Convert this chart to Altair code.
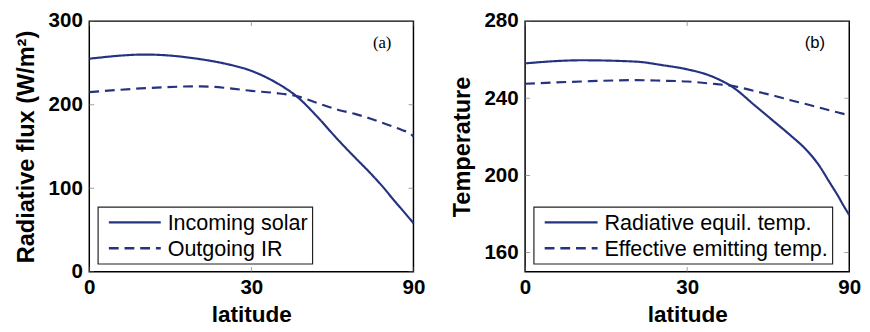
import math
import altair as alt
import pandas as pd

# ---- data ----
lat = [0, 10, 20, 25, 30, 35, 40, 45, 50, 55, 60, 65, 70, 75, 80, 85, 90]
incoming_solar = [255, 260, 254.5, 248.8, 240.5, 227, 209, 184, 158.5, 137,
                  118.5, 101.4, 85.7, 73.9, 65.2, 60, 58]
outgoing_ir = [215, 219.8, 222, 220, 216.5, 214, 210, 201.5, 194, 189,
               183.5, 178, 173.4, 169.5, 166.5, 163.5, 162]
t_rad_equil = [258.1, 259.7, 259, 257.2, 255, 251.5, 245.5, 236.5, 228.2, 220.7,
               213.5, 205.3, 196.3, 189.2, 183.6, 180.5, 179.5]
t_eff_emit = [247.5, 248.7, 249.4, 249.1, 248.7, 247.6, 246.3, 243.8, 241.4, 239,
              237, 235.2, 233.7, 232.6, 231.8, 231.4, 231.2]

x_ticks_deg = [0, 30, 90]
y_ticks_a = [0, 100, 200, 300]
y_ticks_b = [160, 200, 240, 280]
y_domain_a = [0, 300]
y_domain_b = [150, 280]

names_a = ["Incoming solar", "Outgoing IR"]
names_b = ["Radiative equil. temp.", "Effective emitting temp."]

NAVY = "#25327f"
SANS = "Liberation Sans"
W, H = 331, 256
DASHES = [[1, 0], [10, 6]]

x_tick_vals = [math.sin(math.radians(d)) for d in x_ticks_deg]


def long_df(names, s1, s2):
    rows = []
    for n, s in zip(names, [s1, s2]):
        for la, v in zip(lat, s):
            rows.append({"lat": la, "value": v, "series": n})
    return pd.DataFrame(rows)


def panel(names, s1, s2, ydom, yticks, ytitle, tag, tag_font, tag_x, box_right, sym_right):
    df = long_df(names, s1, s2)
    xscale = alt.Scale(domain=[0, 1], nice=False)
    yscale = alt.Scale(domain=ydom, nice=False, zero=False)
    xaxis = alt.Axis(values=x_tick_vals, title="latitude",
                     labelExpr="format(round(asin(datum.value)*180/PI), 'd')",
                     labelFlush=False, labelOverlap=False,
                     labelPadding=5, titlePadding=7)
    yaxis = alt.Axis(values=yticks, title=ytitle, labelPadding=7, titlePadding=10,
                     labelOverlap=False)

    lines = alt.Chart(df).transform_calculate(
        sx="sin(datum.lat*PI/180)"
    ).mark_line(color=NAVY, strokeWidth=2.2, interpolate="monotone").encode(
        x=alt.X("sx:Q", scale=xscale, axis=xaxis),
        y=alt.Y("value:Q", scale=yscale, axis=yaxis),
        strokeDash=alt.StrokeDash(
            "series:N", scale=alt.Scale(domain=names, range=DASHES), legend=None),
        order="lat:Q",
    )

    xt = pd.DataFrame({"sx": x_tick_vals})
    yt = pd.DataFrame({"value": yticks})
    tk = dict(color="#777777", thickness=1, size=10, clip=True)
    xtb = alt.Chart(xt).mark_tick(**tk).encode(
        x=alt.X("sx:Q", scale=xscale, axis=xaxis), y=alt.value(H))
    xtt = alt.Chart(xt).mark_tick(**tk).encode(
        x=alt.X("sx:Q", scale=xscale, axis=xaxis), y=alt.value(0))
    ytl = alt.Chart(yt).mark_tick(**tk).encode(
        y=alt.Y("value:Q", scale=yscale, axis=yaxis), x=alt.value(0))
    ytr = alt.Chart(yt).mark_tick(**tk).encode(
        y=alt.Y("value:Q", scale=yscale, axis=yaxis), x=alt.value(W))

    label = alt.Chart(pd.DataFrame({"t": [tag]})).mark_text(
        font=tag_font, fontSize=17, color="black"
    ).encode(text="t:N", x=alt.value(tag_x), y=alt.value(22))

    # legend box (drawn manually)
    box = alt.Chart(pd.DataFrame({"t": [0]})).mark_rect(
        fill="white", stroke="#222222", strokeWidth=1.2
    ).encode(x=alt.value(9), x2=alt.value(box_right), y=alt.value(190), y2=alt.value(248))
    leg_layers = [box]
    row_y = [205.5, 232]
    for i, n in enumerate(names):
        d = pd.DataFrame({"series": [n]})
        leg_layers.append(alt.Chart(d).mark_rule(
            color=NAVY, strokeWidth=2.5, strokeDash=DASHES[i]
        ).encode(x=alt.value(20), x2=alt.value(sym_right), y=alt.value(row_y[i])))
        leg_layers.append(alt.Chart(d).mark_text(
            font=SANS, fontSize=22, color="black", align="left", baseline="middle"
        ).encode(text="series:N", x=alt.value(sym_right + 7), y=alt.value(row_y[i] + 1)))

    return alt.layer(lines, xtb, xtt, ytl, ytr, label, *leg_layers).properties(
        width=W, height=H)


pa = panel(names_a, incoming_solar, outgoing_ir, y_domain_a, y_ticks_a,
           "Radiative flux (W/m²)", "(a)", "Liberation Serif", 299, 228, 73)
pb = panel(names_b, t_rad_equil, t_eff_emit, y_domain_b, y_ticks_b,
           "Temperature", "(b)", SANS, 296, 314, 74)

chart = alt.hconcat(pa, pb, spacing=24).resolve_scale(
    strokeDash="independent", x="independent", y="independent"
).properties(
    padding={"left": 6, "top": -2, "right": 0, "bottom": 0}
).configure_view(
    stroke="black", strokeWidth=1.5
).configure_axis(
    domain=False, ticks=False, grid=False,
    labelFont=SANS, labelFontSize=21, labelFontWeight="bold", labelColor="black",
    titleFont=SANS, titleFontSize=23, titleFontWeight="bold", titleColor="black",
).configure_axisY(titleFontSize=24)

chart.save("out.html", embed_options={"renderer": "svg", "actions": False})
